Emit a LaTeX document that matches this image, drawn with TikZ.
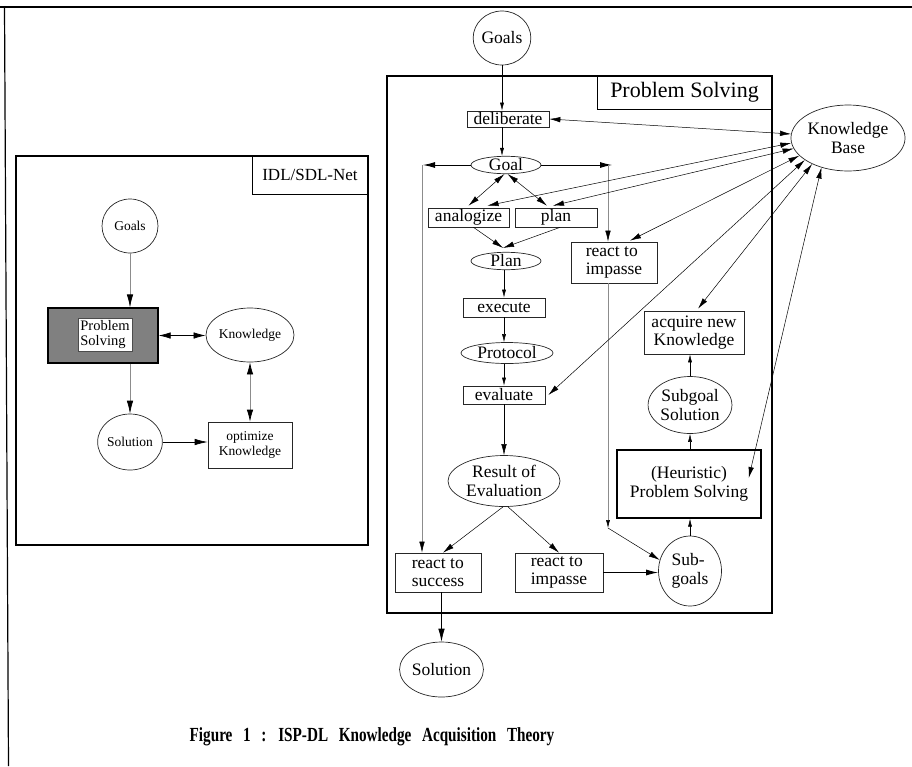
\documentclass[tikz,border=0pt]{standalone}
\usepackage{fontspec}
\setmainfont{Liberation Serif}
\usetikzlibrary{arrows.meta,shapes.geometric,calc}
\begin{document}
\begin{tikzpicture}[x=1pt,y=-1pt,
  box/.style={draw=black!85,line width=0.7pt,rectangle,inner sep=0pt,align=center},
  ell/.style={draw=black!85,line width=0.7pt,ellipse,inner sep=0pt,align=center},
  rf/.style={font=\fontsize{17.5}{18.5}\selectfont},
  lf/.style={font=\fontsize{13.5}{14.5}\selectfont},
  larr/.style={-{Latex[length=13pt,width=6.5pt,color=black]},line width=0.7pt},
  ldarr/.style={{Latex[length=12pt,width=6.5pt,color=black]}-{Latex[length=12pt,width=6.5pt,color=black]},line width=0.7pt},
  arr/.style={-{Latex[length=11pt,width=5.5pt,color=black]},line width=0.5pt},
  sarr/.style={-{Latex[length=8pt,width=4pt,color=black]},line width=0.5pt},
  darr/.style={{Latex[length=11pt,width=5.5pt]}-{Latex[length=11pt,width=5.5pt]},line width=0.5pt},
  harr/.style={-{Latex[length=12pt,width=6pt]},line width=0.9pt},
  grayline/.style={draw=black!45}
]
\useasboundingbox (0,0) rectangle (912,766);
% outer frame
\draw[line width=2pt] (0,6.7) -- (912,6.7);
\draw[line width=1.2pt] (4.5,6) -- (8.5,766);

% ---------- left panel ----------
\draw[line width=1.2pt] (16,156) rectangle (368,545);
\node[draw,line width=1pt,minimum width=116pt,minimum height=38pt,inner sep=0pt,font=\fontsize{17}{19}\selectfont] (llab) at (310,175) {IDL/SDL-Net};
\node[ell,lf,minimum width=56pt,minimum height=54pt] (lgoals) at (130,226) {Goals};
\node[draw=black,line width=1.2pt,fill=black!50,minimum width=110pt,minimum height=55pt,inner sep=0pt] (lps) at (103,335.5) {};
\node[draw=black!70,line width=0.6pt,fill=white,minimum width=54pt,minimum height=33pt,inner sep=1pt,align=left,font=\fontsize{14.5}{14.5}\selectfont] (lpsin) at (105,334.5) {Problem\\Solving};
\node[ell,lf,minimum width=78pt,minimum height=54pt] (lknow) at (250,335) {Knowledge};
\node[ell,lf,minimum width=56pt,minimum height=56pt] (lsol) at (130,442) {Solution};
\node[box,lf,minimum width=84pt,minimum height=46pt] (lopt) at (250,445) {optimize\\Knowledge};

\draw[larr,grayline] (lgoals.south) -- (lgoals.south |- lps.north);
\draw[ldarr] (lps.east) -- (lps.east -| lknow.west);
\draw[larr,grayline] (lsol.north |- lps.south) -- (lsol.north);
\draw[larr] (lsol.east) -- (lsol.east -| lopt.west);
\draw[ldarr,grayline] (lknow.south) -- (lopt.north);

% ---------- right panel ----------
\node[ell,rf,minimum width=52pt,minimum height=54pt] (rgoals) at (502,38) {Goals};
\draw[line width=1.3pt] (387,76) rectangle (772,613);
\node[draw,line width=1pt,minimum width=175pt,minimum height=33pt,inner sep=0pt,font=\fontsize{22}{24}\selectfont] (rlab) at (684.5,92.5) {Problem Solving};

\node[box,rf,minimum width=82pt,minimum height=16pt] (delib) at (508,119) {deliberate};
\node[ell,rf,minimum width=70pt,minimum height=17pt] (goal) at (506,165) {Goal};
\node[box,rf,minimum width=81pt,minimum height=19pt] (anal) at (468.5,217.5) {analogize};
\node[box,rf,minimum width=82pt,minimum height=19pt] (plan) at (556,217.5) {plan};
\node[ell,rf,minimum width=70pt,minimum height=16pt] (Plan) at (506,261) {Plan};
\node[box,rf,minimum width=82pt,minimum height=19pt] (exec) at (504,307.5) {execute};
\node[ell,rf,minimum width=92pt,minimum height=21pt] (proto) at (507,353) {Protocol};
\node[box,rf,minimum width=82pt,minimum height=18pt] (eval) at (504,395) {evaluate};
\node[ell,rf,minimum width=112pt,minimum height=51pt] (result) at (504,481) {Result of\\Evaluation};
\node[box,rf,minimum width=86pt,minimum height=39pt,align=left] (rsucc) at (438,572.5) {react to\\success};
\node[box,rf,minimum width=88pt,minimum height=39pt,align=left] (rimp2) at (559,572.5) {react to\\impasse};
\node[box,rf,minimum width=86pt,minimum height=41pt,align=left] (rimp1) at (614,262.5) {react to\\impasse};
\node[ell,rf,minimum width=63pt,minimum height=70pt,align=left] (subg) at (690,571) {Sub-\\goals};
\node[box,rf,line width=1.4pt,draw=black,minimum width=144pt,minimum height=68pt] (heur) at (689,484) {(Heuristic)\\Problem Solving};
\node[ell,rf,minimum width=83pt,minimum height=57pt] (subsol) at (690,405) {Subgoal\\Solution};
\node[box,rf,minimum width=100pt,minimum height=43pt] (acq) at (694,332.5) {acquire new\\Knowledge};
\node[ell,rf,minimum width=110pt,minimum height=66pt] (kb) at (848,138) {Knowledge\\Base};
\node[ell,rf,minimum width=69pt,minimum height=55pt] (rsol) at (441.5,669.5) {Solution};

\coordinate (gl) at (423,165);
\coordinate (gr) at (612,165);
\coordinate (gl2) at (422,165);
\coordinate (gr2) at (608,165);
\coordinate (ci) at (608,528);

% main flow
\draw[sarr] (rgoals.south) -- (rgoals.south |- delib.north);
\draw[sarr] (delib.south -| rgoals.south) -- (rgoals.south |- goal.north);
\draw[harr] (goal.west) -- (gl);
\draw[harr] (goal.east) -- (gr);
\draw[arr,grayline] (gl2) -- (gl2 |- rsucc.north);
\draw[arr,grayline] (gr2) -- (gr2 |- rimp1.north);
\draw[darr] (goal.260) -- ($(anal.north)+(0,-2)$);
\draw[darr] (goal.280) -- ($(plan.north)+(-9,-2)$);
\draw[arr] ($(anal.south)+(5,0)$) -- ($(Plan.north)+(-3,-4)$);
\draw[arr] ($(plan.south)+(4,0)$) -- ($(Plan.north)+(-3,-4)$);
\draw[sarr] (Plan.south -| exec.north) -- (exec.north);
\draw[sarr] (exec.south) -- (exec.south |- proto.north);
\draw[sarr] (exec.south |- proto.south) -- (eval.north);
\draw[arr] (eval.south) -- (eval.south |- result.north);
\draw[arr] ($(result.south)+(-1,0)$) -- ($(rsucc.north)+(5,0)$);
\draw[arr] ($(result.south)+(4,0)$) -- (rimp2.north);
\draw[harr] (rimp2.east) -- (rimp2.east -| subg.west);
\draw[sarr,grayline] (rimp1.south -| ci) -- (ci);
\draw[arr] (ci) -- (subg.160);
\draw[sarr] (subg.north) -- (subg.north |- heur.south);
\draw[sarr] (heur.north -| subsol.south) -- (subsol.south);
\draw[sarr] (subsol.north) -- (subsol.north |- acq.south);
\draw[larr] (rsol.north |- rsucc.south) -- (rsol.north);

% knowledge base links
\draw[darr] (delib.east) -- (kb.176);
\draw[darr] ($(anal.north)+(19,-2)$) -- (kb.185);
\draw[darr] ($(plan.north)+(-3,-2)$) -- (kb.191);
\draw[darr] ($(rimp1.north)+(16,-1)$) -- (kb.200);
\draw[darr] ($(eval.east)+(3,0)$) -- (kb.207);
\draw[darr] ($(acq.north)+(4,-2)$) -- (kb.216);
\draw[darr] ($(heur.east)+(-13,-6)$) -- (kb.228);

% caption
\node[font=\fontsize{20}{22}\selectfont\bfseries] (cap) at (372,737) {\scalebox{0.76}[1]{\spaceskip=0.7em Figure 1 : ISP-DL Knowledge Acquisition Theory}};
\end{tikzpicture}
\end{document}
